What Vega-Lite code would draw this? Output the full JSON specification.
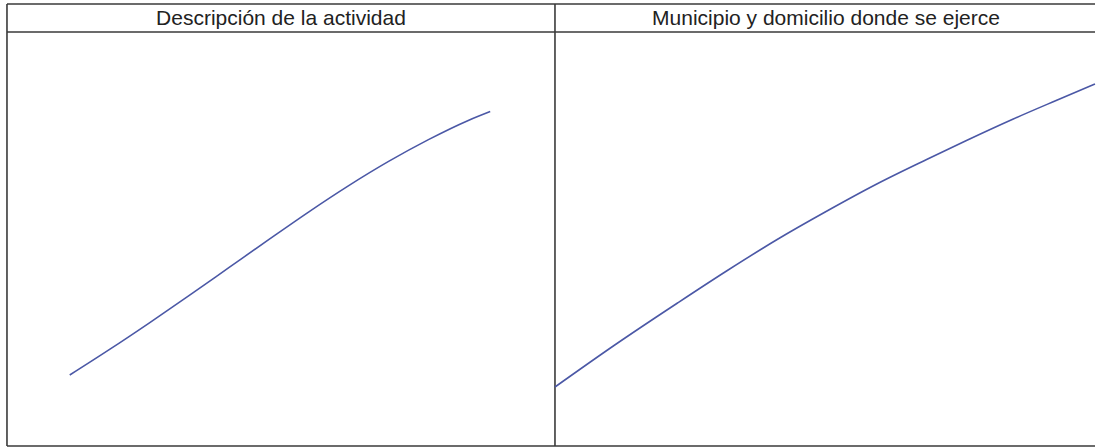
{
  "$schema": "https://vega.github.io/schema/vega-lite/v6.json",
  "width": 1099,
  "height": 448,
  "padding": 0,
  "autosize": {"type": "fit", "contains": "padding"},
  "background": "white",
  "config": {"view": {"stroke": null}},
  "datasets": {
    "frame": [
      {"x": 7, "y": 4, "x2": 1099, "y2": 4},
      {"x": 7, "y": 32, "x2": 1099, "y2": 32},
      {"x": 7, "y": 446, "x2": 1099, "y2": 446},
      {"x": 7, "y": 4, "x2": 7, "y2": 446},
      {"x": 557, "y": 4, "x2": 557, "y2": 446}
    ],
    "strokes": [
      {"cell": "left", "x": 70, "y": 375},
      {"cell": "left", "x": 110, "y": 349.4},
      {"cell": "left", "x": 150, "y": 322.8},
      {"cell": "left", "x": 190, "y": 295.4},
      {"cell": "left", "x": 230, "y": 267.4},
      {"cell": "left", "x": 270, "y": 239.4},
      {"cell": "left", "x": 310, "y": 211.8},
      {"cell": "left", "x": 350, "y": 185.6},
      {"cell": "left", "x": 390, "y": 161.4},
      {"cell": "left", "x": 430, "y": 139.6},
      {"cell": "left", "x": 470, "y": 120.4},
      {"cell": "left", "x": 492, "y": 111.5},
      {"cell": "right", "x": 557, "y": 387},
      {"cell": "right", "x": 617, "y": 345},
      {"cell": "right", "x": 680, "y": 303},
      {"cell": "right", "x": 730, "y": 270.5},
      {"cell": "right", "x": 780, "y": 239.5},
      {"cell": "right", "x": 830, "y": 211},
      {"cell": "right", "x": 880, "y": 184},
      {"cell": "right", "x": 930, "y": 159.5},
      {"cell": "right", "x": 970, "y": 140.5},
      {"cell": "right", "x": 1017, "y": 119},
      {"cell": "right", "x": 1060, "y": 100.5},
      {"cell": "right", "x": 1099, "y": 84}
    ],
    "headers": [
      {"label": "Descripción de la actividad", "x": 282, "y": 25},
      {"label": "Municipio y domicilio donde se ejerce", "x": 829, "y": 25}
    ]
  },
  "layer": [
    {
      "data": {"name": "frame"},
      "mark": {"type": "rule", "color": "#3a3a3a", "strokeWidth": 1.6},
      "encoding": {
        "x": {"field": "x", "type": "quantitative", "scale": {"domain": [0, 1099], "nice": false, "zero": false}, "axis": null},
        "y": {"field": "y", "type": "quantitative", "scale": {"domain": [0, 448], "nice": false, "zero": false, "reverse": true}, "axis": null},
        "x2": {"field": "x2"},
        "y2": {"field": "y2"}
      }
    },
    {
      "data": {"name": "strokes"},
      "mark": {"type": "line", "color": "#4b58a6", "strokeWidth": 1.6, "interpolate": "monotone"},
      "encoding": {
        "x": {"field": "x", "type": "quantitative"},
        "y": {"field": "y", "type": "quantitative"},
        "detail": {"field": "cell"}
      }
    },
    {
      "data": {"name": "headers"},
      "mark": {"type": "text", "font": "Liberation Sans", "fontSize": 21, "color": "#222222", "align": "center", "baseline": "alphabetic"},
      "encoding": {
        "x": {"field": "x", "type": "quantitative"},
        "y": {"field": "y", "type": "quantitative"},
        "text": {"field": "label"}
      }
    }
  ]
}
